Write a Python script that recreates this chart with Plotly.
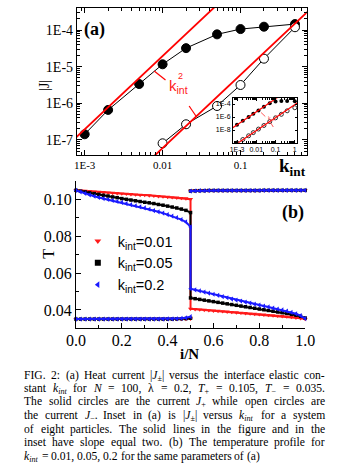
import re
import plotly.graph_objects as go

W, H = 345, 467

# ---------------- panel (a): |J| versus k_int  (N = 100) ----------------
k_plus = [0.001, 0.002, 0.005, 0.01, 0.02, 0.05, 0.1, 0.2, 0.5]
j_plus = [1.43e-7, 6.6e-7, 3.36e-6, 1.16e-5, 3.2e-5, 7.6e-5, 1.06e-4, 1.23e-4, 1.45e-4]
k_minus = [0.01, 0.02, 0.05, 0.1, 0.2, 0.5]
j_minus = [8.1e-8, 2.68e-7, 8.45e-7, 3.16e-6, 1.65e-5, 1.19e-4]

# slope-two guide lines  J = c * k^2
c_plus_main = 0.195
c_minus_main = 6.0e-4
k_guide = [1e-4, 10.0]

x_ticks_a = [0.001, 0.01, 0.1]
x_ticktext_a = ["1E-3", "0.01", "0.1"]
y_ticks_a = [1e-7, 1e-6, 1e-5, 1e-4]
y_ticktext_a = ["1E-7", "1E-6", "1E-5", "1E-4"]

# ---------------- inset: eight particles ----------------
k_inset = [0.001, 0.002, 0.004, 0.007, 0.013, 0.025, 0.05, 0.1, 0.2, 0.4, 1.0]
j_inset_plus = [6.5e-8, 2.6e-7, 1.0e-6, 3.1e-6, 1.05e-5, 3.8e-5, 1.3e-4, 2.5e-4, 2.8e-4, 2.8e-4, 2.7e-4]
j_inset_minus = [1.0e-10, 3.5e-10, 1.3e-9, 4.0e-9, 1.4e-8, 5.0e-8, 2.0e-7, 7.5e-7, 2.6e-6, 9.0e-6, 2.7e-5]
c_plus_inset = 0.063
c_minus_inset = 8.1e-5

x_ticks_in = [0.001, 0.01, 0.1, 1.0]
x_ticktext_in = ["1E-3", "0.01", "0.1", "1"]
y_ticks_in = [1e-8, 1e-6, 1e-4]
y_ticktext_in = ["1E-8", "1E-6", "1E-4"]

# ---------------- panel (b): temperature profiles ----------------
site_left = [round(0.02 * i, 2) for i in range(26)]          # i/N on the left chain
site_right = [round(0.5 + 0.02 * i, 2) for i in range(26)]   # i/N on the right chain

# hot bath on the left (T+ = 0.105), cold on the right (T- = 0.035)
fwd_left = {
    "0.01": [0.1050, 0.1048, 0.1047, 0.1045, 0.1043, 0.1041, 0.1040, 0.1038, 0.1036, 0.1034,
             0.1032, 0.1031, 0.1029, 0.1027, 0.1025, 0.1024, 0.1022, 0.1020, 0.1018, 0.1016,
             0.1014, 0.1012, 0.1010, 0.1008, 0.1006, 0.1002],
    "0.05": [0.1050, 0.1045, 0.1041, 0.1036, 0.1032, 0.1028, 0.1023, 0.1019, 0.1014, 0.1010,
             0.1005, 0.1001, 0.0997, 0.0993, 0.0989, 0.0985, 0.0982, 0.0978, 0.0973, 0.0969,
             0.0964, 0.0959, 0.0954, 0.0948, 0.0941, 0.0929],
    "0.2":  [0.1050, 0.1041, 0.1033, 0.1025, 0.1018, 0.1011, 0.1005, 0.1000, 0.0995, 0.0989,
             0.0984, 0.0978, 0.0972, 0.0966, 0.0960, 0.0954, 0.0947, 0.0940, 0.0933, 0.0926,
             0.0918, 0.0910, 0.0901, 0.0891, 0.0878, 0.0851],
}
fwd_right = {
    "0.01": [0.0406, 0.0404, 0.0402, 0.0400, 0.0398, 0.0396, 0.0394, 0.0392, 0.0390, 0.0388,
             0.0386, 0.0384, 0.0382, 0.0380, 0.0378, 0.0376, 0.0374, 0.0372, 0.0370, 0.0368,
             0.0366, 0.0364, 0.0361, 0.0358, 0.0355, 0.0350],
    "0.05": [0.0465, 0.0461, 0.0457, 0.0453, 0.0449, 0.0445, 0.0441, 0.0437, 0.0433, 0.0429,
             0.0425, 0.0421, 0.0417, 0.0413, 0.0409, 0.0405, 0.0401, 0.0397, 0.0393, 0.0389,
             0.0385, 0.0381, 0.0376, 0.0371, 0.0365, 0.0356],
    "0.2":  [0.0515, 0.0509, 0.0503, 0.0497, 0.0491, 0.0485, 0.0479, 0.0472, 0.0466, 0.0459,
             0.0453, 0.0448, 0.0442, 0.0437, 0.0431, 0.0426, 0.0421, 0.0416, 0.0410, 0.0405,
             0.0400, 0.0394, 0.0387, 0.0379, 0.0369, 0.0353],
}
# baths exchanged: the chains stay close to their own bath temperature
rev_left = {
    "0.01": [0.0350] * 22 + [0.0350, 0.0351, 0.0351, 0.0352],
    "0.05": [0.0350] * 22 + [0.0351, 0.0352, 0.0353, 0.0355],
    "0.2":  [0.0350] * 20 + [0.0351, 0.0351, 0.0352, 0.0354, 0.0357, 0.0363],
}
rev_right = {
    "0.01": [0.1047, 0.1048, 0.1048, 0.1049] + [0.1049] * 12 + [0.1050] * 10,
    "0.05": [0.1046, 0.1047, 0.1048, 0.1048] + [0.1049] * 12 + [0.1050] * 10,
    "0.2":  [0.1046, 0.1047, 0.1048, 0.1048] + [0.1049] * 12 + [0.1050] * 10,
}
series_style = {
    "0.01": dict(color="#ff1a1a", symbol="triangle-down", size=4.5),
    "0.05": dict(color="#000000", symbol="square", size=3.5),
    "0.2":  dict(color="#1a1aff", symbol="triangle-left", size=4.5),
}

SERIF = "Liberation Serif"
SANS = "Liberation Sans"

fig = go.Figure()

# ---- panel (a) data ----
fig.add_trace(go.Scatter(
    x=k_plus, y=j_plus, mode="lines+markers", xaxis="x", yaxis="y",
    line=dict(color="black", width=1),
    marker=dict(size=9, color="black", line=dict(color="black", width=1)),
    showlegend=False))
fig.add_trace(go.Scatter(
    x=k_minus, y=j_minus, mode="lines+markers", xaxis="x", yaxis="y",
    line=dict(color="black", width=1),
    marker=dict(size=9, color="white", line=dict(color="black", width=1)),
    showlegend=False))
for c in (c_plus_main, c_minus_main):
    fig.add_trace(go.Scatter(
        x=k_guide, y=[c * k ** 2 for k in k_guide], mode="lines", xaxis="x", yaxis="y",
        line=dict(color="#ff0000", width=1.8), showlegend=False, hoverinfo="skip"))
# pointers from the k_int^2 label to the guide lines
fig.add_trace(go.Scatter(x=[0.0078, 0.0109], y=[7.6e-6, 4.3e-6], mode="lines",
                         xaxis="x", yaxis="y", line=dict(color="#ff0000", width=1.2),
                         showlegend=False, hoverinfo="skip"))
fig.add_trace(go.Scatter(x=[0.0219, 0.0272], y=[8.45e-7, 4.3e-7], mode="lines",
                         xaxis="x", yaxis="y", line=dict(color="#ff0000", width=1.2),
                         showlegend=False, hoverinfo="skip"))

# ---- inset ----
fig.add_trace(go.Scatter(
    x=k_inset, y=j_inset_plus, mode="markers", xaxis="x2", yaxis="y2",
    marker=dict(size=4, color="black"), showlegend=False))
fig.add_trace(go.Scatter(
    x=k_inset, y=j_inset_minus, mode="markers", xaxis="x2", yaxis="y2",
    marker=dict(size=4, color="white", line=dict(color="black", width=0.8)),
    showlegend=False))
for c in (c_plus_inset, c_minus_inset):
    fig.add_trace(go.Scatter(
        x=k_guide, y=[c * k ** 2 for k in k_guide], mode="lines", xaxis="x2", yaxis="y2",
        line=dict(color="#ff0000", width=1.2), showlegend=False, hoverinfo="skip"))

# ---- panel (b) ----
for key in ("0.01", "0.05", "0.2"):
    st = series_style[key]
    mk = dict(color=st["color"], symbol=st["symbol"], size=st["size"], line=dict(width=0))
    fig.add_trace(go.Scatter(
        x=site_left + site_right, y=fwd_left[key] + fwd_right[key],
        mode="lines+markers", xaxis="x3", yaxis="y3", cliponaxis=False,
        line=dict(color=st["color"], width=2), marker=mk, showlegend=False))
    fig.add_trace(go.Scatter(
        x=site_left + [None] + site_right, y=rev_left[key] + [None] + rev_right[key],
        mode="lines+markers", xaxis="x3", yaxis="y3", cliponaxis=False,
        line=dict(color=st["color"], width=2), marker=mk, showlegend=False))
for key in ("0.01", "0.05", "0.2"):
    st = series_style[key]
    fig.add_trace(go.Scatter(
        x=[None], y=[None], mode="markers", xaxis="x3", yaxis="y3",
        name="k<sub>int</sub>=" + key,
        marker=dict(color=st["color"], symbol=st["symbol"], size=6, line=dict(width=0))))


def minor_log(lo, hi):
    vals = []
    for e in range(lo, hi):
        for m in range(2, 10):
            vals.append(m * 10.0 ** e)
    return vals


def px(xp, yp):
    return xp / W, 1 - yp / H


axis_common = dict(showgrid=False, zeroline=False, showline=True, linecolor="black",
                   linewidth=1, ticks="inside", tickcolor="black", ticklen=5)

layout = dict(
    width=W, height=H, margin=dict(l=0, r=0, t=0, b=0),
    paper_bgcolor="white", plot_bgcolor="white",
    xaxis=dict(axis_common, type="log", domain=[71 / W, 315 / W], range=[-3.1, -0.15],
               anchor="y", mirror="ticks", tickvals=x_ticks_a, ticktext=x_ticktext_a,
               tickfont=dict(family=SERIF, size=11, color="black"),
               minor=dict(ticks="inside", ticklen=3, tickcolor="black",
                          tickvals=minor_log(-4, 1))),
    yaxis=dict(axis_common, type="log", domain=[1 - 155 / H, 1 - 8 / H], range=[-7.41, -3.4],
               anchor="x", mirror="ticks", tickvals=y_ticks_a, ticktext=y_ticktext_a,
               tickfont=dict(family=SERIF, size=14, color="black"),
               minor=dict(ticks="inside", ticklen=3, tickcolor="black",
                          tickvals=minor_log(-8, -3))),
    xaxis2=dict(axis_common, type="log", domain=[236.7 / W, 305 / W], range=[-3.21, 0.13],
                anchor="y2", mirror="ticks", ticklen=2.5, tickvals=x_ticks_in,
                ticktext=x_ticktext_in, ticklabelstandoff=0,
                tickfont=dict(family=SANS, size=7, color="black"),
                minor=dict(ticks="inside", ticklen=1.5, tickcolor="black",
                           tickvals=minor_log(-4, 1))),
    yaxis2=dict(axis_common, type="log", domain=[1 - 142.7 / H, 1 - 98.3 / H], range=[-9.95, -3.12],
                anchor="x2", mirror="ticks", ticklen=2.5, tickvals=y_ticks_in,
                ticktext=y_ticktext_in, ticklabelstandoff=0,
                tickfont=dict(family=SANS, size=7, color="black")),
    xaxis3=dict(axis_common, domain=[70 / W, 313.3 / W], range=[0, 1], anchor="y3",
                tickvals=[0, 0.2, 0.4, 0.6, 0.8, 1.0], tickformat=".1f", ticklabelstandoff=-3,
                tickfont=dict(family=SERIF, size=16, color="black"),
                minor=dict(ticks="inside", ticklen=3, tickcolor="black", dtick=0.1, tick0=0)),
    yaxis3=dict(axis_common, domain=[1 - 328.3 / H, 1 - 181.1 / H], range=[0.03, 0.11],
                anchor="x3", tickvals=[0.04, 0.06, 0.08, 0.10], tickformat=".2f",
                tickfont=dict(family=SERIF, size=16, color="black"),
                minor=dict(ticks="inside", ticklen=3, tickcolor="black", dtick=0.01, tick0=0)),
    legend=dict(x=72 / W, y=1 - 225 / H, xanchor="left", yanchor="top",
                bgcolor="rgba(0,0,0,0)", font=dict(family=SANS, size=14.5, color="black"),
                tracegroupgap=0, itemwidth=30),
)
fig.update_layout(**layout)

annotations = []


def note(text, xp, yp, size, family=SERIF, color="black", xanchor="center",
         yanchor="middle", angle=0):
    xx, yy = px(xp, yp)
    annotations.append(dict(text=text, x=xx, y=yy, xref="paper", yref="paper",
                            xanchor=xanchor, yanchor=yanchor, showarrow=False,
                            textangle=angle, font=dict(family=family, size=size, color=color)))


# panel labels and axis titles
note("<b>(a)</b>", 90, 29, 18)
note("<b>(b)</b>", 300, 212, 18)
note("|J|", 36, 85, 14, angle=-90)
note("T", 40, 254, 16, angle=-90)
note("<b>k<sub>int</sub></b>", 316, 167, 19, xanchor="right")
note("<b>i/N</b>", 191, 354, 15)
# red k_int^2 labels
note("k<sub>int</sub>", 167, 86, 15, family=SANS, color="#ff2020", xanchor="left")
note("2", 181, 76, 9, family=SANS, color="#ff2020")
note("k<sub>int</sub><sup>2</sup>", 272, 119, 5.5, family=SANS, color="#ff5050", xanchor="left")

# ---------------- figure caption (justified, word by word) ----------------
caption = [
    "FIG. 2: (a) Heat current |<i>J</i><sub>±</sub>| versus the interface elastic con-",
    "stant <i>k<sub>int</sub></i> for <i>N</i> = 100, λ = 0.2, <i>T</i><sub>+</sub> = 0.105, <i>T</i><sub>−</sub> = 0.035.",
    "The solid circles are the current <i>J</i><sub>+</sub> while open circles are",
    "the current <i>J</i><sub>−</sub>. Inset in (a) is |<i>J</i><sub>±</sub>| versus <i>k<sub>int</sub></i> for a system",
    "of eight particles. The solid lines in the figure and in the",
    "inset have slope equal two. (b) The temperature profile for",
    "<i>k<sub>int</sub></i> = 0.01, 0.05, 0.2 for the same parameters of (a)",
]
caption_top = [366.5, 380.0, 393.3, 407.0, 420.6, 434.0, 447.8]
CAP_SIZE = 11.6
CAP_LEFT, CAP_RIGHT = 13.0, 332.0
LAST_LINE_GAP = 3.3
WIDTH_FUDGE = 1.05

# Times-style advance widths (em)
EM = dict(a=.444, b=.5, c=.444, d=.5, e=.444, f=.333, g=.5, h=.5, i=.278, j=.278, k=.5,
          l=.278, m=.778, n=.5, o=.5, p=.5, q=.5, r=.333, s=.389, t=.278, u=.5, v=.5,
          w=.722, x=.5, y=.5, z=.444,
          A=.722, B=.667, C=.667, D=.722, E=.611, F=.556, G=.722, H=.722, I=.333, J=.389,
          K=.722, L=.611, M=.889, N=.722, O=.722, P=.556, Q=.722, R=.667, S=.556, T=.611,
          U=.722, V=.722, W=.944, X=.722, Y=.722, Z=.611)
EM.update({d: .5 for d in "0123456789"})
EM.update({".": .25, ",": .25, ":": .278, "(": .333, ")": .333, "|": .2, "±": .564,
           "+": .564, "−": .564, "=": .564, "-": .333, "λ": .55})


def word_width(word, size):
    width, sub = 0.0, False
    for part in re.split(r"(<[^>]+>)", word):
        if part.startswith("<"):
            if part == "<sub>":
                sub = True
            elif part == "</sub>":
                sub = False
            continue
        width += sum(EM.get(ch, .5) for ch in part) * size * (0.7 if sub else 1.0)
    return width * WIDTH_FUDGE


for n, (line, ytop) in enumerate(zip(caption, caption_top)):
    words = line.split(" ")
    widths = [word_width(w, CAP_SIZE) for w in words]
    if n < len(caption) - 1:
        gap = (CAP_RIGHT - CAP_LEFT - sum(widths)) / (len(words) - 1)
    else:
        gap = LAST_LINE_GAP
    xcur = CAP_LEFT
    for w, wd in zip(words, widths):
        note(w, xcur, ytop, CAP_SIZE, xanchor="left", yanchor="top")
        xcur += wd + gap

fig.update_layout(annotations=annotations)

# small pointers in the inset
shapes = []
for (x0, y0, x1, y1) in [(266.5, 112.5, 271.0, 116.5), (276.5, 122.5, 279.5, 127.0)]:
    a0 = px(x0, y0)
    a1 = px(x1, y1)
    shapes.append(dict(type="line", xref="paper", yref="paper", x0=a0[0], y0=a0[1],
                       x1=a1[0], y1=a1[1], line=dict(color="#ff3030", width=0.8)))
fig.update_layout(shapes=shapes)

fig.write_html("out.html")
